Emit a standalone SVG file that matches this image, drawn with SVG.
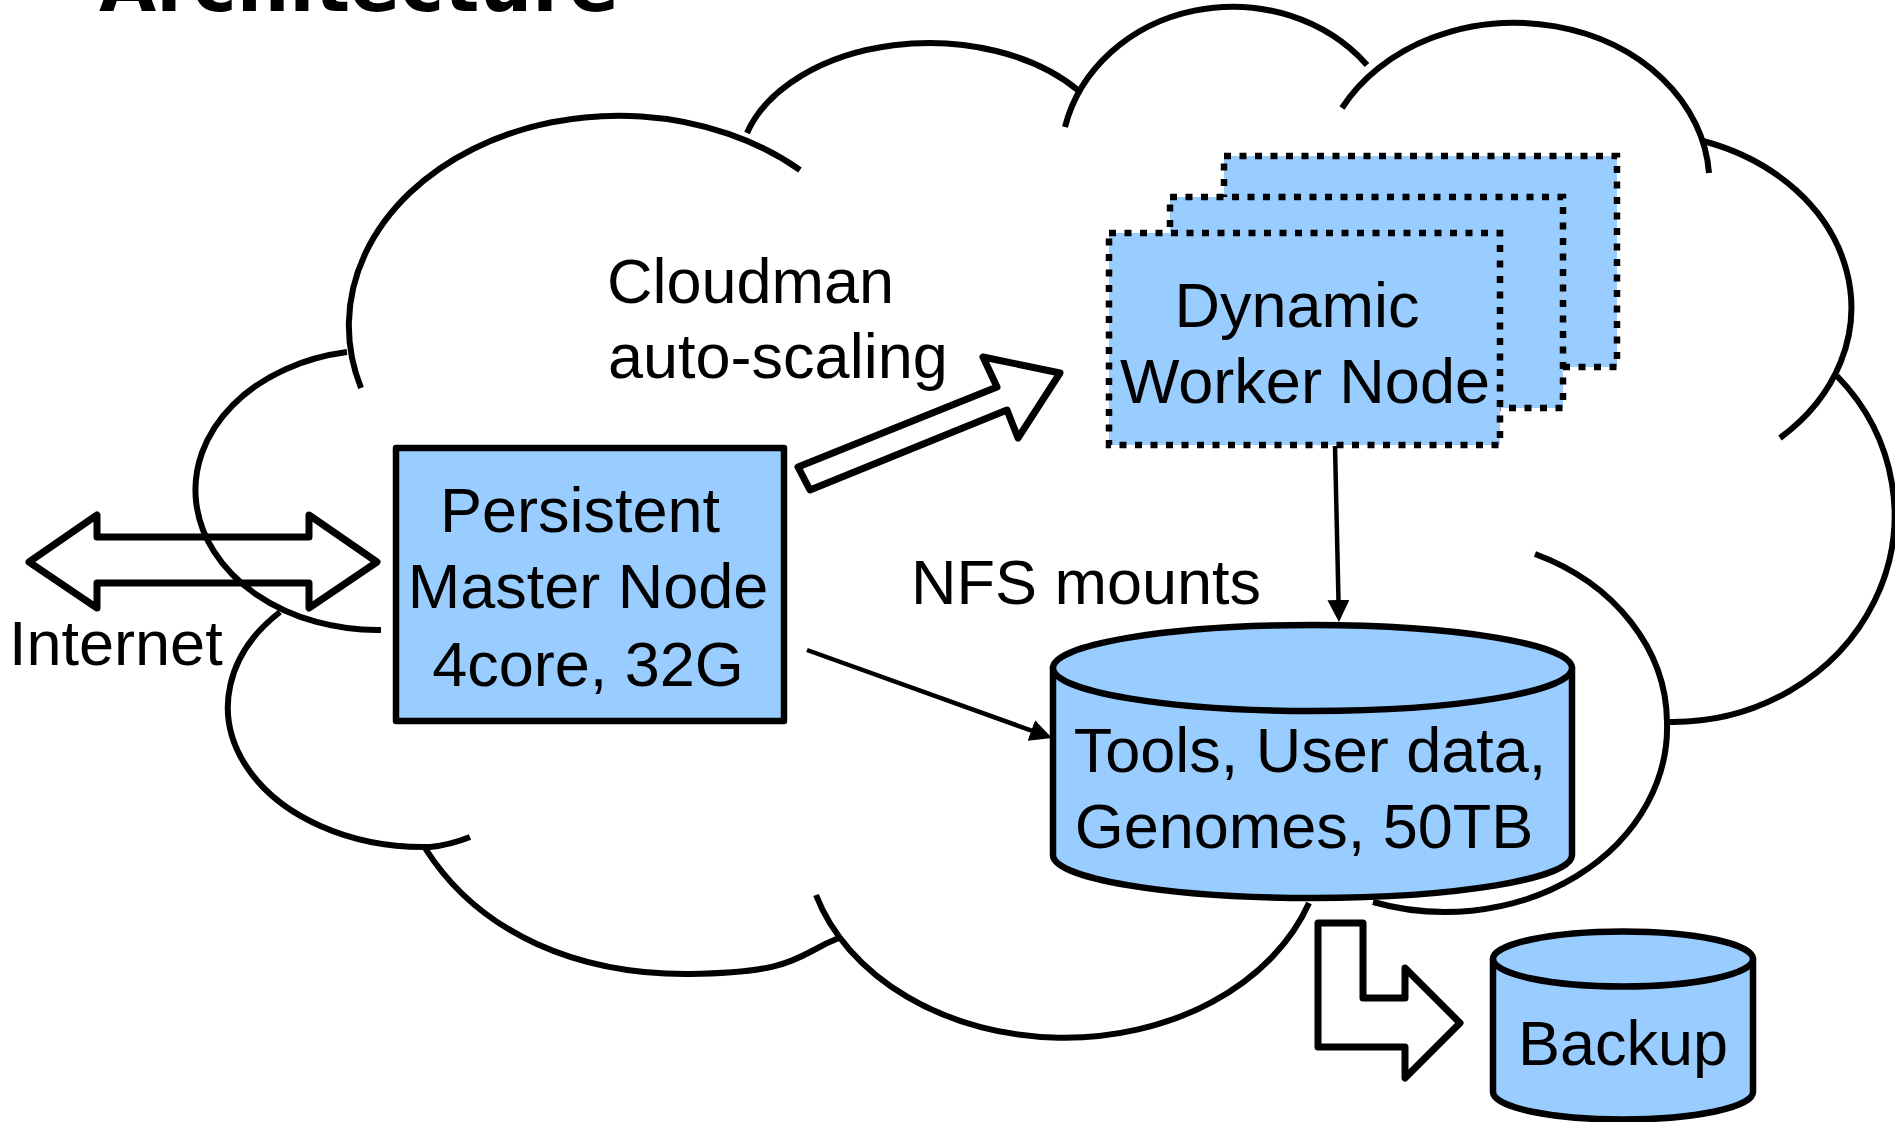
<svg xmlns="http://www.w3.org/2000/svg" width="1895" height="1122" viewBox="0 0 1895 1122">
  <defs>
    <marker id="head" markerUnits="userSpaceOnUse" viewBox="0 0 22 22" refX="10" refY="11" markerWidth="22" markerHeight="22" orient="auto">
      <path d="M0,0 L22,11 L0,22 Z" fill="#000"/>
    </marker>
    <style>
      .cloud { fill: none; stroke: #000; stroke-width: 6; stroke-linecap: butt; }
      .box { fill: #99ccff; stroke: #000; stroke-width: 6.5; stroke-linejoin: round; }
      .dotted { fill: #99ccff; stroke: #000; stroke-width: 6.5; stroke-dasharray: 7 8.5; }
      .block { fill: none; stroke: #000; stroke-width: 7; stroke-linejoin: round; }
      .link { fill: none; stroke: #000; stroke-width: 4.5; }
      .lbl { font-family: "Liberation Sans", Arial, sans-serif; font-size: 63px; fill: #000; }
      .mid { text-anchor: middle; }
      .title { font-family: "DejaVu Sans", sans-serif; font-weight: bold; font-size: 74px; fill: #000; }
    </style>
  </defs>

  <rect width="1895" height="1122" fill="#fff"/>

  <!-- heading, mostly cut off by the top edge -->
  <text class="title" x="99" y="11">Architecture</text>

  <!-- cloud outline built from overlapping bumps -->
  <g id="cloud">
    <path class="cloud" d="M361,388 A270,210 0 0 1 800,170"/>
    <path class="cloud" d="M747,133 A190,125 0 0 1 1079,91"/>
    <path class="cloud" d="M1065,127 A172,155 0 0 1 1367,65"/>
    <path class="cloud" d="M1342,108 A195,160 0 0 1 1709,173"/>
    <path class="cloud" d="M1703,141 A214,175 0 0 1 1780,438"/>
    <path class="cloud" d="M1837,376 A222,207 0 0 1 1667,722"/>
    <path class="cloud" d="M1535,554 A222,185 0 0 1 1667,722 A222,185 0 0 1 1373,902"/>
    <path class="cloud" d="M347,352 A182,140 0 0 0 381,630"/>
    <path class="cloud" d="M280,612 A196,140 0 0 0 430,847 Q450,845 470,837"/>
    <path class="cloud" d="M425,848 C480,935 580,975 690,974 C770,973 790,963 812,951 Q826,943 841,937"/>
    <path class="cloud" d="M816,895 A259,200 0 0 0 1309,903"/>
  </g>

  <!-- connectors -->
  <g id="connectors">
    <polygon id="internet-arrow" class="block" points="29,562 97,515 97,537 309,537 309,515 377,562 309,608 309,583 97,583 97,608"/>
    <polygon id="scaling-arrow" class="block" points="798,467 997,387 983,357 1060,373 1018,438 1007,410 810,490"/>
    <polygon id="backup-arrow" class="block" points="1318,923 1363,923 1363,998 1405,998 1405,968 1460,1023 1405,1078 1405,1047 1318,1047"/>
    <line id="master-to-storage" class="link" x1="807" y1="650" x2="1040.7" y2="733.9" marker-end="url(#head)"/>
    <line id="worker-to-storage" class="link" x1="1335" y1="446" x2="1338.7" y2="610" marker-end="url(#head)"/>
  </g>

  <!-- free labels -->
  <g id="labels">
    <text class="lbl" x="9" y="665">Internet</text>
    <text class="lbl" x="607" y="303">Cloudman</text>
    <text class="lbl" x="608" y="378">auto-scaling</text>
    <text class="lbl" x="911" y="604">NFS mounts</text>
  </g>

  <g id="master-node">
    <rect class="box" x="396" y="448" width="388" height="273"/>
    <text class="lbl mid" x="580" y="532">Persistent</text>
    <text class="lbl mid" x="588" y="608">Master Node</text>
    <text class="lbl mid" x="588" y="686">4core, 32G</text>
  </g>

  <g id="worker-nodes">
    <rect class="dotted" x="1224" y="156" width="393" height="211"/>
    <rect class="dotted" x="1170" y="197" width="393" height="211"/>
    <rect class="dotted" x="1109" y="233" width="391" height="212"/>
    <text class="lbl mid" x="1297" y="327">Dynamic</text>
    <text class="lbl mid" x="1305" y="403">Worker Node</text>
  </g>

  <g id="storage">
    <path class="box" d="M1053,668 V855 A259.5,43 0 0 0 1572,855 V668 Z"/>
    <ellipse class="box" cx="1312.5" cy="668" rx="259.5" ry="43"/>
    <text class="lbl mid" x="1310" y="772">Tools, User data,</text>
    <text class="lbl mid" x="1304" y="848">Genomes, 50TB</text>
  </g>

  <g id="backup">
    <path class="box" d="M1493,959 V1092 A130,27.5 0 0 0 1753,1092 V959 Z"/>
    <ellipse class="box" cx="1623" cy="959" rx="130" ry="27.5"/>
    <text class="lbl mid" x="1623" y="1065">Backup</text>
  </g>
</svg>
